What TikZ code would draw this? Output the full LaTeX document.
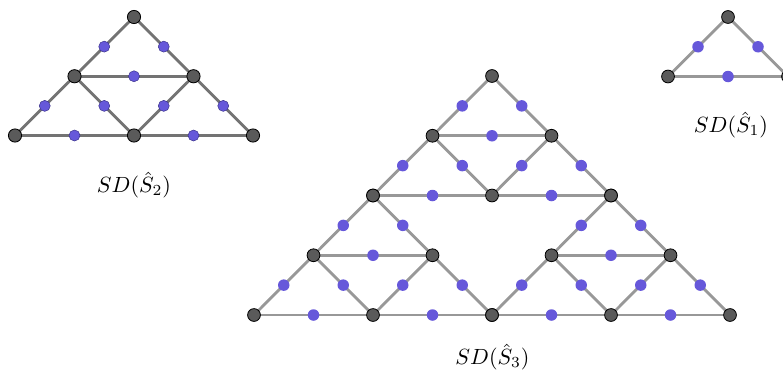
\documentclass[tikz,border=0pt]{standalone}
\pgfdeclarelayer{fg}
\pgfsetlayers{main,fg}
\definecolor{vgray}{RGB}{90,90,90}
\definecolor{dotblue}{RGB}{102,88,218}
\definecolor{dotrim}{RGB}{60,52,140}
\definecolor{edgedark}{RGB}{115,115,115}
\definecolor{edgelight}{RGB}{152,152,152}
\tikzset{
  vtx/.style={circle, draw=black, fill=vgray, line width=0.8pt, inner sep=0pt, minimum size=12.8pt},
  vtxbig/.style={vtx, minimum size=13.2pt},
  bdot/.style={circle, fill=dotblue, inner sep=0pt, minimum size=11.5pt},
  bdotrim/.style={bdot, draw=dotrim, line width=0.5pt, minimum size=11pt},
  edgeA/.style={draw=edgedark, line width=2.8pt},
  edgeB/.style={draw=edgelight, line width=2.8pt},
  lbl/.style={inner sep=0pt}
}
% #1 prefix, #2 apex x, #3 apex y, #4 dx, #5 dy, #6 edge style, #7 dot style, #8 vertex style
\newcommand\sdtwo[8]{%
  \coordinate (#1A) at (#2,#3);
  \coordinate (#1L) at ({#2-#4},{#3+#5});
  \coordinate (#1R) at ({#2+#4},{#3+#5});
  \coordinate (#1BL) at ({#2-2*#4},{#3+2*#5});
  \coordinate (#1BM) at (#2,{#3+2*#5});
  \coordinate (#1BR) at ({#2+2*#4},{#3+2*#5});
  \foreach \a/\b in {A/L,A/R,L/R,L/BL,L/BM,R/BM,R/BR,BL/BM,BM/BR}
    \path[#6] (#1\a) -- node[#7] (#1d\a\b) {} (#1\b);
  \begin{pgfonlayer}{fg}
    \foreach \v in {A,L,R,BL,BM,BR}
      \node[#8] (#1v\v) at (#1\v) {};
  \end{pgfonlayer}
}
\begin{document}
\begin{tikzpicture}[x=1pt,y=-1pt]
  \useasboundingbox (0,0) rectangle (783,375);
  \clip (0,0) rectangle (783,375);
  % SD(S2)
  \sdtwo{p}{134}{17}{59.5}{59.25}{edgeA}{bdotrim}{vtxbig}
  \node[lbl] (l2) at (134,185) {\scalebox{2.2}{$SD(\hat{S}_2)$}};
  % SD(S1)
  \coordinate (qA) at (728,17);
  \coordinate (qL) at (668,76.5);
  \coordinate (qR) at (788,76.5);
  \foreach \a/\b in {A/L,A/R,L/R}
    \path[edgeB] (q\a) -- node[bdot] (qd\a\b) {} (q\b);
  \begin{pgfonlayer}{fg}
    \foreach \v in {A,L,R}
      \node[vtx] (qv\v) at (q\v) {};
  \end{pgfonlayer}
  \node[lbl] (l1) at (731,125) {\scalebox{2.2}{$SD(\hat{S}_1)$}};
  % SD(S3)
  \sdtwo{t}{492}{76}{59.5}{59.75}{edgeB}{bdot}{vtx}
  \sdtwo{u}{373}{195.5}{59.5}{59.75}{edgeB}{bdot}{vtx}
  \sdtwo{w}{611}{195.5}{59.5}{59.75}{edgeB}{bdot}{vtx}
  \node[lbl] (l3) at (492.5,357) {\scalebox{2.2}{$SD(\hat{S}_3)$}};
\end{tikzpicture}
\end{document}
